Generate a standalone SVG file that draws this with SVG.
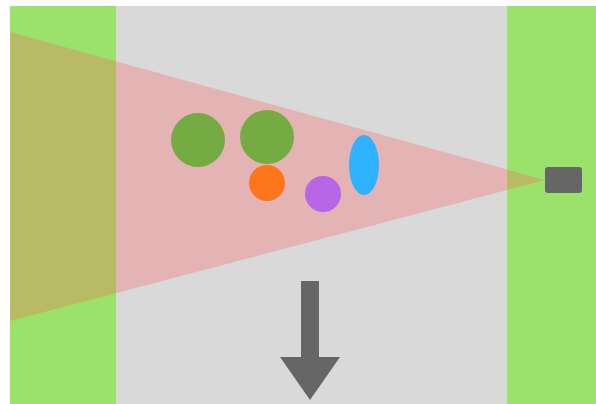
<svg xmlns="http://www.w3.org/2000/svg" width="596" height="404" viewBox="0 0 596 404">
<style>
.grass{fill:#9be26a}
.road{fill:#d9d9d9}
.dark{fill:#666666}
</style>
<rect x="0" y="0" width="596" height="404" fill="#ffffff"/>
<g id="road"><rect class="road" x="116" y="6" width="391" height="398"/></g>
<g id="left-grass"><rect class="grass" x="10" y="6" width="106" height="398"/></g>
<g id="right-grass"><rect class="grass" x="507" y="6" width="89" height="398"/></g>
<g id="cone"><polygon points="10,32 545,180 10,321" fill="#ff5c5c" fill-opacity="0.3"/></g>
<g id="sensor"><rect class="dark" x="545" y="167" width="37" height="26" rx="3"/></g>
<g id="tree1"><circle cx="198" cy="140" r="27" fill="#74ab43"/></g>
<g id="tree2"><circle cx="267" cy="137" r="27" fill="#74ab43"/></g>
<g id="orange"><circle cx="267" cy="183" r="18" fill="#ff7519"/></g>
<g id="purple"><circle cx="323" cy="194" r="18" fill="#b766e6"/></g>
<g id="blue"><ellipse cx="364" cy="165" rx="15" ry="30" fill="#2fb2ff"/></g>
<g id="connectors">
<polygon class="dark" points="301,281 319,281 319,357 340,357 310,400 280,357 301,357"/>
</g>
</svg>
